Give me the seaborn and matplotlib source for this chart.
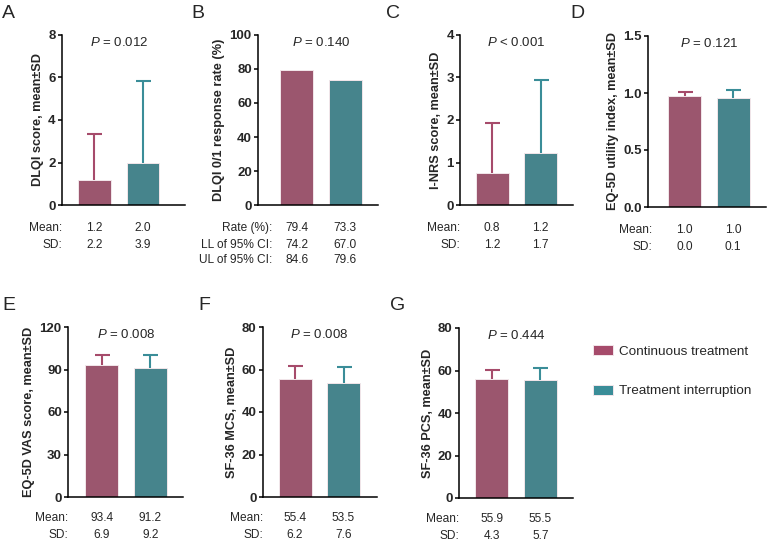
import matplotlib
matplotlib.use("Agg")
import matplotlib.pyplot as plt
import seaborn as sns
from matplotlib.patches import Patch
from matplotlib.ticker import FormatStrFormatter
from matplotlib.transforms import blended_transform_factory

# groups and colours
groups = ["Continuous treatment", "Treatment interruption"]
colors = ["#A64B6B", "#3A8D98"]

# values
dlqi_mean = [1.18, 1.96]
dlqi_sd = [2.17, 3.89]
resp_rate = [79.4, 73.3]
resp_ll = [74.2, 67.0]
resp_ul = [84.6, 79.6]
inrs_mean = [0.75, 1.22]
inrs_sd = [1.18, 1.72]
eq5d_mean = [0.97, 0.96]
eq5d_sd = [0.04, 0.07]
vas_mean = [93.4, 91.2]
vas_sd = [6.9, 9.2]
mcs_mean = [55.4, 53.5]
mcs_sd = [6.2, 7.6]
pcs_mean = [55.9, 55.5]
pcs_sd = [4.3, 5.7]

letters = ["A", "B", "C", "D", "E", "F", "G"]
p_texts = ["= 0.012", "= 0.140", "< 0.001", "= 0.121", "= 0.008", "= 0.008", "= 0.444"]
ylabels = ["DLQI score, mean±SD", "DLQI 0/1 response rate (%)", "I-NRS score, mean±SD",
           "EQ-5D utility index, mean±SD", "EQ-5D VAS score, mean±SD",
           "SF-36 MCS, mean±SD", "SF-36 PCS, mean±SD"]
yticks = [[0, 2, 4, 6, 8], [0, 20, 40, 60, 80, 100], [0, 1, 2, 3, 4],
          [0, 0.5, 1.0, 1.5], [0, 30, 60, 90, 120], [0, 20, 40, 60, 80], [0, 20, 40, 60, 80]]

panels = [
    (dlqi_mean, dlqi_sd, [("Mean:", dlqi_mean), ("SD:", dlqi_sd)]),
    (resp_rate, None, [("Rate (%):", resp_rate), ("LL of 95% CI:", resp_ll), ("UL of 95% CI:", resp_ul)]),
    (inrs_mean, inrs_sd, [("Mean:", inrs_mean), ("SD:", inrs_sd)]),
    (eq5d_mean, eq5d_sd, [("Mean:", eq5d_mean), ("SD:", eq5d_sd)]),
    (vas_mean, vas_sd, [("Mean:", vas_mean), ("SD:", vas_sd)]),
    (mcs_mean, mcs_sd, [("Mean:", mcs_mean), ("SD:", mcs_sd)]),
    (pcs_mean, pcs_sd, [("Mean:", pcs_mean), ("SD:", pcs_sd)]),
]

# layout in pixels: x0, x1, ytop, ybottom, left pad (bar units), label offset px, letter x, letter y
W, H = 767, 542
boxes = [
    (62, 185, 35, 205, 0.67, 0, 2, 13),
    (258, 378, 35, 205, 0.80, 14, 191, 13),
    (460, 573, 35, 205, 0.66, 0, 386, 13),
    (648, 766, 36, 207, 0.755, 4, 570, 13),
    (68, 183, 327, 497, 0.70, 0, 2, 305),
    (263, 377, 327, 497, 0.66, 0, 198, 305),
    (459, 573, 328, 498, 0.68, 0, 390, 305),
]

sns.set_theme(style="ticks")
plt.rcParams["font.family"] = ["Liberation Sans", "DejaVu Sans"]
plt.rcParams["mathtext.fontset"] = "custom"
plt.rcParams["mathtext.it"] = "Liberation Sans:italic"
plt.rcParams["mathtext.rm"] = "Liberation Sans"

fig = plt.figure(figsize=(W / 100, H / 100), dpi=100)
spacing = 48.5
px2pt = 0.72

for i, (vals, sds, table) in enumerate(panels):
    x0, x1, yt, yb, pad, lab_off, lx, ly = boxes[i]
    ax = fig.add_axes([x0 / W, 1 - yb / H, (x1 - x0) / W, (yb - yt) / H])
    sns.barplot(x=groups, y=vals, hue=groups, palette=colors, legend=False,
                width=0.68, ax=ax, edgecolor="#f2e6ea", linewidth=0.7, zorder=3)
    if sds is not None:
        for j in range(2):
            eb = ax.errorbar(j, vals[j], yerr=[[0], [sds[j]]], fmt="none", ecolor=colors[j],
                             elinewidth=1.5, capsize=5.4, capthick=1.5, zorder=2)
            # only the upper cap is shown
            eb[1][0].set_visible(False)
    ax.set_xlim(-pad, (x1 - x0) / spacing - pad)
    ax.set_ylim(yticks[i][0], yticks[i][-1])
    ax.set_yticks(yticks[i])
    if i == 3:
        ax.yaxis.set_major_formatter(FormatStrFormatter("%.1f"))
    ax.set_xticks([])
    ax.set_xlabel("")
    ax.set_ylabel(ylabels[i], fontsize=9.2, fontweight="bold", labelpad=3)
    for t in ax.get_yticklabels():
        t.set_fontweight("bold")
        t.set_fontsize(9.5)
    ax.tick_params(axis="y", length=3, width=1.1, pad=1.5, color="black")
    for s in ["top", "right"]:
        ax.spines[s].set_visible(False)
    for s in ["left", "bottom"]:
        ax.spines[s].set_linewidth(1.1)
        ax.spines[s].set_color("black")
        ax.spines[s].set_zorder(4)
    ax.set_facecolor("none")

    trans = blended_transform_factory(ax.transData, ax.transAxes)
    ax.text(0.5, 0.955, "$P$ " + p_texts[i], transform=trans, ha="center", va="center",
            fontsize=9.5)

    rows_px = [23, 40, 55] if i < 4 else [21, 38]
    for r, (label, data) in enumerate(table):
        dy = -rows_px[r] * px2pt
        ax.annotate(label, xy=(0, 0), xycoords="axes fraction",
                    xytext=(lab_off * px2pt, dy), textcoords="offset points",
                    ha="right", va="center", fontsize=8.6, annotation_clip=False)
        for j in range(2):
            ax.annotate(f"{data[j]:.1f}", xy=(j, 0), xycoords=trans,
                        xytext=(0, dy), textcoords="offset points",
                        ha="center", va="center", fontsize=8.6, annotation_clip=False)

    fig.text(lx / W, 1 - ly / H, letters[i], ha="left", va="center", fontsize=14)

handles = [Patch(facecolor=colors[k], edgecolor="#f2e6ea", linewidth=0.7) for k in range(2)]
fig.legend(handles, groups, loc="upper left", bbox_to_anchor=(593 / W, 1 - 345 / H),
           frameon=False, fontsize=9.7, handlelength=1.45, handleheight=0.76,
           handletextpad=0.45, labelspacing=2.0, borderpad=0, borderaxespad=0)

fig.savefig("out.png", dpi=100)
